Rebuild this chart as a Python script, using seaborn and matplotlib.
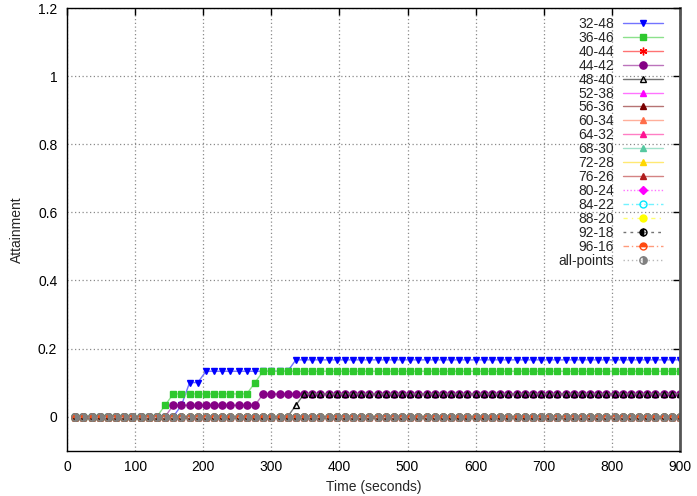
import matplotlib
matplotlib.use("Agg")
import matplotlib.pyplot as plt
import seaborn as sns
from matplotlib.colors import to_rgb
from matplotlib.lines import Line2D
from matplotlib.ticker import FuncFormatter

sns.set_style("white")
plt.rcParams["font.family"] = ["Liberation Sans", "DejaVu Sans"]

# ---------------- data ----------------
times = list(range(12, 901, 12))  # sample instants (seconds)

ZEROS = [0, 0, 0, 0, 0, 0, 0, 0, 0, 0, 0, 0, 0, 0, 0, 0, 0, 0, 0, 0, 0, 0, 0, 0, 0,
         0, 0, 0, 0, 0, 0, 0, 0, 0, 0, 0, 0, 0, 0, 0, 0, 0, 0, 0, 0, 0, 0, 0, 0, 0,
         0, 0, 0, 0, 0, 0, 0, 0, 0, 0, 0, 0, 0, 0, 0, 0, 0, 0, 0, 0, 0, 0, 0, 0, 0]

s_32_48 = [0, 0, 0, 0, 0, 0, 0, 0, 0, 0, 0, 0, 0, 0.0333, 0.1, 0.1,
           0.1333, 0.1333, 0.1333, 0.1333, 0.1333, 0.1333, 0.1333, 0.1333, 0.1333, 0.1333, 0.1333,
           0.1667, 0.1667, 0.1667, 0.1667, 0.1667, 0.1667, 0.1667, 0.1667, 0.1667, 0.1667,
           0.1667, 0.1667, 0.1667, 0.1667, 0.1667, 0.1667, 0.1667, 0.1667, 0.1667, 0.1667,
           0.1667, 0.1667, 0.1667, 0.1667, 0.1667, 0.1667, 0.1667, 0.1667, 0.1667, 0.1667,
           0.1667, 0.1667, 0.1667, 0.1667, 0.1667, 0.1667, 0.1667, 0.1667, 0.1667, 0.1667,
           0.1667, 0.1667, 0.1667, 0.1667, 0.1667, 0.1667, 0.1667, 0.1667]

s_36_46 = [0, 0, 0, 0, 0, 0, 0, 0, 0, 0, 0, 0.0333,
           0.0667, 0.0667, 0.0667, 0.0667, 0.0667, 0.0667, 0.0667, 0.0667, 0.0667, 0.0667,
           0.1,
           0.1333, 0.1333, 0.1333, 0.1333, 0.1333, 0.1333, 0.1333, 0.1333, 0.1333, 0.1333,
           0.1333, 0.1333, 0.1333, 0.1333, 0.1333, 0.1333, 0.1333, 0.1333, 0.1333, 0.1333,
           0.1333, 0.1333, 0.1333, 0.1333, 0.1333, 0.1333, 0.1333, 0.1333, 0.1333, 0.1333,
           0.1333, 0.1333, 0.1333, 0.1333, 0.1333, 0.1333, 0.1333, 0.1333, 0.1333, 0.1333,
           0.1333, 0.1333, 0.1333, 0.1333, 0.1333, 0.1333, 0.1333, 0.1333, 0.1333, 0.1333,
           0.1333, 0.1333]

s_44_42 = [0, 0, 0, 0, 0, 0, 0, 0, 0, 0, 0, 0,
           0.0333, 0.0333, 0.0333, 0.0333, 0.0333, 0.0333, 0.0333, 0.0333, 0.0333, 0.0333, 0.0333,
           0.0667, 0.0667, 0.0667, 0.0667, 0.0667, 0.0667, 0.0667, 0.0667, 0.0667, 0.0667,
           0.0667, 0.0667, 0.0667, 0.0667, 0.0667, 0.0667, 0.0667, 0.0667, 0.0667, 0.0667,
           0.0667, 0.0667, 0.0667, 0.0667, 0.0667, 0.0667, 0.0667, 0.0667, 0.0667, 0.0667,
           0.0667, 0.0667, 0.0667, 0.0667, 0.0667, 0.0667, 0.0667, 0.0667, 0.0667, 0.0667,
           0.0667, 0.0667, 0.0667, 0.0667, 0.0667, 0.0667, 0.0667, 0.0667, 0.0667, 0.0667,
           0.0667, 0.0667]

s_48_40 = [0, 0, 0, 0, 0, 0, 0, 0, 0, 0, 0, 0, 0, 0, 0, 0, 0, 0, 0, 0, 0, 0, 0, 0, 0, 0, 0,
           0.0333,
           0.0667, 0.0667, 0.0667, 0.0667, 0.0667, 0.0667, 0.0667, 0.0667, 0.0667, 0.0667,
           0.0667, 0.0667, 0.0667, 0.0667, 0.0667, 0.0667, 0.0667, 0.0667, 0.0667, 0.0667,
           0.0667, 0.0667, 0.0667, 0.0667, 0.0667, 0.0667, 0.0667, 0.0667, 0.0667, 0.0667,
           0.0667, 0.0667, 0.0667, 0.0667, 0.0667, 0.0667, 0.0667, 0.0667, 0.0667, 0.0667,
           0.0667, 0.0667, 0.0667, 0.0667, 0.0667, 0.0667, 0.0667]

series_names = ["32-48", "36-46", "40-44", "44-42", "48-40", "52-38", "56-36", "60-34",
                "64-32", "68-30", "72-28", "76-26", "80-24", "84-22", "88-20", "92-18",
                "96-16", "all-points"]
series_values = [s_32_48, s_36_46, ZEROS, s_44_42, s_48_40, ZEROS, ZEROS, ZEROS,
                 ZEROS, ZEROS, ZEROS, ZEROS, ZEROS, ZEROS, ZEROS, ZEROS,
                 ZEROS, ZEROS]

x_ticks = [0, 100, 200, 300, 400, 500, 600, 700, 800, 900]
y_ticks = [0, 0.2, 0.4, 0.6, 0.8, 1.0, 1.2]

# ---------------- styles ----------------
ast = (6, 2, 0)
styles = [
    dict(c="#0000ff", m="v", ms=5.0, fill="full", ls="-"),
    dict(c="#2ec82e", m="s", ms=4.8, fill="full", ls="-"),
    dict(c="#ff0000", m=ast, ms=5.5, fill="full", ls="-"),
    dict(c="#850085", m="o", ms=5.2, fill="full", ls="-"),
    dict(c="#000000", m="^", ms=4.6, fill="none", ls="-"),
    dict(c="#ff00ff", m="^", ms=4.6, fill="full", ls="-"),
    dict(c="#7a0000", m="^", ms=4.6, fill="full", ls="-"),
    dict(c="#ff6e4a", m="^", ms=4.6, fill="full", ls="-"),
    dict(c="#ff1493", m="^", ms=4.6, fill="full", ls="-"),
    dict(c="#55c8a0", m="^", ms=4.6, fill="full", ls="-"),
    dict(c="#ffd700", m="^", ms=4.6, fill="full", ls="-"),
    dict(c="#b01e1e", m="^", ms=4.6, fill="full", ls="-"),
    dict(c="#ff00ff", m="D", ms=4.2, fill="full", ls=(0, (1, 1.5))),
    dict(c="#00e8ff", m="o", ms=5.0, fill="none", ls=(0, (4, 2, 1, 2))),
    dict(c="#ffff00", m="o", ms=5.0, fill="full", ls=(0, (3, 3, 1, 3))),
    dict(c="#000000", m="o", ms=5.0, fill="left", ls=(0, (2, 3))),
    dict(c="#ff4a10", m="o", ms=5.0, fill="top", ls=(0, (4, 2, 1, 2))),
    dict(c="#808080", m="o", ms=5.3, fill="right", ls=(0, (1, 2))),
]


def lighten(c, a=0.5):
    r, g, b = to_rgb(c)
    return (1 - a * (1 - r), 1 - a * (1 - g), 1 - a * (1 - b))


W, H = 697, 496
fig = plt.figure(figsize=(W / 100, H / 100), dpi=100)
ax = fig.add_axes([67 / W, 1 - 450.7 / H, (680 - 67) / W, (450.7 - 8) / H])


def style_line(ln, st):
    if st["fill"] == "none":
        ln.set_markerfacecolor("none")
    if st["fill"] in ("left", "top", "right"):
        ln.set_markerfacecoloralt("none")


for name, vals, st in zip(series_names, series_values, styles):
    n_before = len(ax.lines)
    face = st["c"] if st["fill"] != "none" else "none"
    sns.lineplot(x=times, y=vals, ax=ax, errorbar=None, legend=False,
                 color=lighten(st["c"], 0.55), linewidth=1.0, linestyle=st["ls"],
                 marker=st["m"], markersize=st["ms"],
                 markerfacecolor=face,
                 markeredgecolor=st["c"], markeredgewidth=1.0,
                 fillstyle=st["fill"] if st["fill"] != "none" else "full")
    style_line(ax.lines[n_before], st)

ax.set_xlim(0, 900)
ax.set_ylim(-0.1, 1.2)
ax.set_xticks(x_ticks)
ax.set_yticks(y_ticks)
ax.yaxis.set_major_formatter(FuncFormatter(lambda v, p: "%g" % round(v, 2)))
ax.grid(True, color="#8a8a8a", linestyle=(0, (1, 2)), linewidth=0.9)
ax.set_axisbelow(True)

ax.tick_params(direction="in", top=True, right=True, length=5, width=1,
               labelsize=10, pad=7, colors="black")
for s in ["left", "top", "bottom"]:
    ax.spines[s].set_color("black")
    ax.spines[s].set_linewidth(1)
ax.spines["right"].set_color("#555555")
ax.spines["right"].set_linewidth(2)

ax.set_xlabel("Time (seconds)", fontsize=10, labelpad=4)
ax.set_ylabel("Attainment", fontsize=10, labelpad=10)

# ---------------- gnuplot-style key (text right-aligned, sample on the right) ----
row0, drow = 22.7, 13.96
text_right, samp_l, samp_r = 614, 623, 663
for i, (name, st) in enumerate(zip(series_names, styles)):
    yc = row0 + drow * i
    fig.text(text_right / W, 1 - (yc + 5.0) / H, name, ha="right", va="baseline",
             fontsize=10)
    face = st["c"] if st["fill"] != "none" else "none"
    ln = Line2D([samp_l / W, (samp_l + samp_r) / 2 / W, samp_r / W],
                [1 - yc / H] * 3, transform=fig.transFigure,
                color=lighten(st["c"], 0.55), linewidth=1.0, linestyle=st["ls"],
                marker=st["m"], markersize=st["ms"], markevery=[1],
                markerfacecolor=face, markeredgecolor=st["c"], markeredgewidth=1.0,
                fillstyle=st["fill"] if st["fill"] != "none" else "full")
    style_line(ln, st)
    fig.add_artist(ln)

fig.savefig("out.png", dpi=100)
